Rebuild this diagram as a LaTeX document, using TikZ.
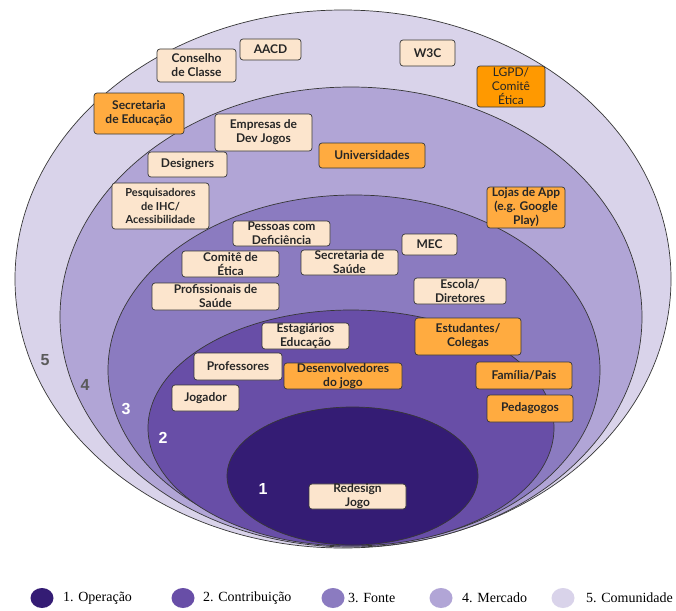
\documentclass[tikz,border=0pt]{standalone}
\usepackage{fontspec}
\usetikzlibrary{shapes.geometric}
\newfontfamily\latofont{Lato}
\newfontfamily\numfont{Liberation Sans}
\newfontfamily\legfont{Liberation Serif}
\definecolor{cA}{RGB}{52,28,116}
\definecolor{cB}{RGB}{104,78,167}
\definecolor{cC}{RGB}{139,123,192}
\definecolor{cD}{RGB}{177,165,214}
\definecolor{cE}{RGB}{217,211,234}
\definecolor{peach}{RGB}{252,229,205}
\definecolor{orng}{RGB}{255,171,64}
\definecolor{orngB}{RGB}{255,153,0}
\definecolor{edge}{RGB}{55,55,55}
\definecolor{txt}{RGB}{38,38,38}
\definecolor{numgray}{RGB}{90,90,90}
\begin{document}
\begin{tikzpicture}[x=1pt,y=-1pt,
  ring/.style={draw=edge,line width=0.7pt},
  bx/.style={draw=edge,line width=0.7pt,rounded corners=3pt,inner sep=0pt,
    align=center,text=txt,font=\latofont\bfseries\fontsize{12}{14}\selectfont},
  pbox/.style={bx,fill=peach},
  obox/.style={bx,fill=orng},
  num/.style={font=\numfont\bfseries\fontsize{16}{16}\selectfont},
  legdot/.style={ellipse,minimum width=23pt,minimum height=20pt,inner sep=0pt},
  legtxt/.style={anchor=west,inner sep=0pt,font=\legfont\fontsize{14}{14}\selectfont,text=black}]
\useasboundingbox (0,0) rectangle (676,610);
% rings
\fill[white] (0,0) rectangle (676,610);
\draw[ring,fill=cE] (343,279) ellipse [x radius=328,y radius=269];
\draw[ring,fill=cD] (351,317) ellipse [x radius=291,y radius=230];
\draw[ring,fill=cC] (354,370) ellipse [x radius=246,y radius=175];
\draw[ring,fill=cB] (351,428) ellipse [x radius=203,y radius=118];
\draw[ring,fill=cA] (352.5,476) ellipse [x radius=125.5,y radius=69];
% ring numbers
\node[num,text=numgray] (n5) at (45,360) {5};
\node[num,text=numgray] (n4) at (85,385) {4};
\node[num,text=white] (n3) at (126,409) {3};
\node[num,text=white] (n2) at (163,438) {2};
\node[num,text=white] (n1) at (263,489) {1};
% boxes ring 5
\node[pbox,minimum width=79pt,minimum height=33pt] (conselho) at (196.5,65.5) {Conselho\\de Classe};
\node[pbox,minimum width=61pt,minimum height=21pt] (aacd) at (270.5,49.5) {AACD};
\node[pbox,minimum width=55pt,minimum height=26pt] (w3c) at (427.5,53) {W3C};
\node[bx,fill=orngB,font=\latofont\fontsize{12}{14}\selectfont,minimum width=68pt,minimum height=41pt] (lgpd) at (511,86.5) {LGPD/\\Comitê\\Ética};
\node[obox,minimum width=90pt,minimum height=41pt] (secedu) at (139,113.5) {Secretaria\\de Educação};
% ring 4
\node[pbox,minimum width=97pt,minimum height=37pt] (empresas) at (263.5,132.5) {Empresas de\\Dev Jogos};
\node[obox,minimum width=106pt,minimum height=25pt] (univ) at (372,155.5) {Universidades};
\node[pbox,minimum width=79pt,minimum height=25pt] (designers) at (187.5,164.5) {Designers};
\node[pbox,font=\latofont\bfseries\fontsize{11}{13.3}\selectfont,minimum width=97pt,minimum height=46pt] (pesq) at (160.5,206) {Pesquisadores\\de IHC/\\Acessibilidade};
\node[obox,minimum width=78pt,minimum height=41pt] (lojas) at (526,207.5) {Lojas de App\\(e.g. Google\\Play)};
% ring 3
\node[pbox,minimum width=97pt,minimum height=25pt] (pessoas) at (281.5,233.5) {Pessoas com\\Deficiência};
\node[pbox,minimum width=55pt,minimum height=21pt] (mec) at (429.5,244.5) {MEC};
\node[pbox,minimum width=97pt,minimum height=26pt] (comite) at (230.5,264) {Comitê de\\Ética};
\node[pbox,minimum width=97pt,minimum height=25pt] (secsaude) at (349.5,262.5) {Secretaria de\\Saúde};
\node[pbox,minimum width=127pt,minimum height=27pt] (profsaude) at (215.5,296.5) {Profissionais de\\Saúde};
\node[pbox,minimum width=92pt,minimum height=26pt] (escola) at (460,291) {Escola/\\Diretores};
% ring 2
\node[pbox,minimum width=87pt,minimum height=26pt] (estag) at (305.5,336) {Estagiários\\Educação};
\node[obox,minimum width=106pt,minimum height=37pt] (estud) at (468,336.5) {Estudantes/\\Colegas};
\node[pbox,minimum width=88pt,minimum height=27pt] (prof) at (238,366.5) {Professores};
\node[obox,minimum width=118pt,minimum height=26pt] (desenv) at (343,376) {Desenvolvedores\\do jogo};
\node[obox,minimum width=96pt,minimum height=27pt] (familia) at (524,375.5) {Família/Pais};
\node[pbox,minimum width=67pt,minimum height=26pt] (jogador) at (205.5,398) {Jogador};
\node[obox,minimum width=86pt,minimum height=27pt] (pedag) at (530,408.5) {Pedagogos};
% ring 1
\node[pbox,minimum width=97pt,minimum height=25pt] (redesign) at (357.5,496.5) {Redesign\\Jogo};
% legend
\node[legdot,fill=cA] (l1) at (42,598) {};
\node[legtxt] (t1) at (63,598) {1. Operação};
\node[legdot,fill=cB] (l2) at (183,598) {};
\node[legtxt] (t2) at (203,598) {2. Contribuição};
\node[legdot,fill=cC] (l3) at (333,598) {};
\node[legtxt] (t3) at (348,598) {3. Fonte};
\node[legdot,fill=cD] (l4) at (441,598) {};
\node[legtxt] (t4) at (462,598) {4. Mercado};
\node[legdot,fill=cE] (l5) at (563,598) {};
\node[legtxt] (t5) at (586,598) {5. Comunidade};
\end{tikzpicture}
\end{document}
